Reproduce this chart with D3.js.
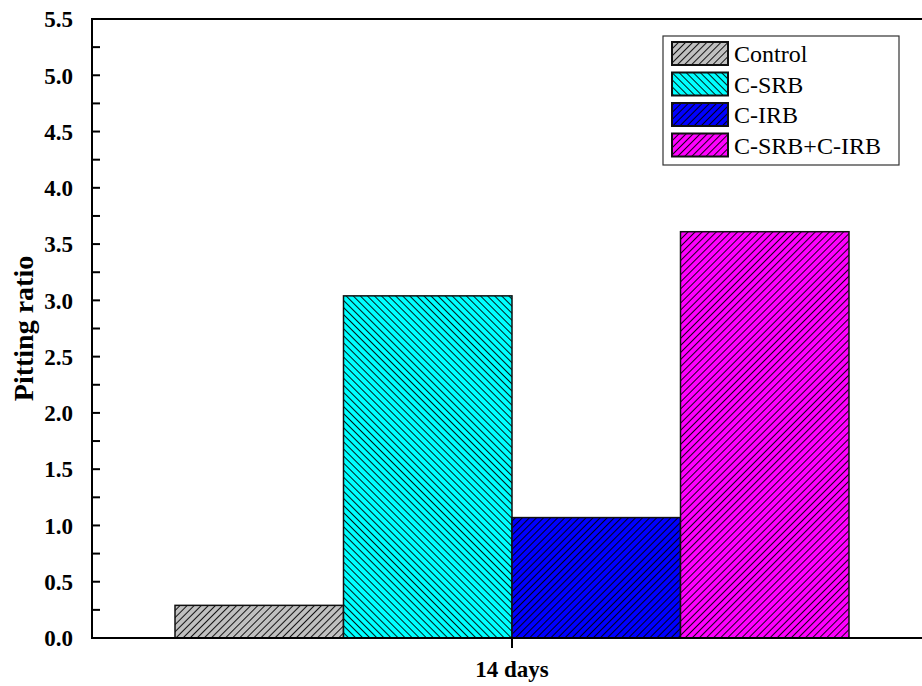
<!DOCTYPE html>
<html>
<head>
<meta charset="utf-8">
<script src="https://cdn.jsdelivr.net/npm/d3@7"></script>
<style>
  html, body { margin: 0; padding: 0; background: #fff; }
  svg { display: block; font-family: "Liberation Serif", "Times New Roman", serif; }
</style>
</head>
<body>
<div id="chart"></div>
<script>
/* ── Data ─────────────────────────────────────────────────────────── */
const GROUPS   = ['14 days'];
const SERIES   = ['Control', 'C-SRB', 'C-IRB', 'C-SRB+C-IRB'];
const VALUES   = [0.29, 3.04, 1.07, 3.61];
const COLORS   = ['#c0c0c0', '#00ffff', '#0000ff', '#ff00ff'];
const HATCH    = ['/', '\\', '/', '/'];
const Y_TICKS  = [0, 0.5, 1.0, 1.5, 2.0, 2.5, 3.0, 3.5, 4.0, 4.5, 5.0, 5.5];

/* ── Layout ───────────────────────────────────────────────────────── */
const W = 922, H = 686;
const X0 = 92, X1 = 932, Y0 = 638, Y1 = 19;
const HS = 5;   // hatch spacing

const svg = d3.select('#chart').append('svg')
  .attr('width', W).attr('height', H);

/* hatch patterns */
const defs = svg.append('defs');
SERIES.forEach((s, i) => {
  const p = defs.append('pattern')
    .attr('id', 'hatch' + i)
    .attr('patternUnits', 'userSpaceOnUse')
    .attr('width', HS).attr('height', HS)
    .attr('patternTransform', `rotate(${HATCH[i] === '/' ? 45 : -45})`);
  p.append('rect').attr('width', HS).attr('height', HS).attr('fill', COLORS[i]);
  p.append('line')
    .attr('x1', 0.5).attr('y1', 0).attr('x2', 0.5).attr('y2', HS)
    .attr('stroke', '#000').attr('stroke-width', 0.9);
});

const y = d3.scaleLinear().domain([0, 5.5]).range([Y0, Y1]);
const xGroup = d3.scaleBand().domain(GROUPS).range([X0, X1]);
const xBar = d3.scaleBand().domain(SERIES).range([0, 674]);

/* ── Bars ─────────────────────────────────────────────────────────── */
const g = svg.append('g');
GROUPS.forEach(grp => {
  const cx = xGroup(grp) + xGroup.bandwidth() / 2;
  SERIES.forEach((s, i) => {
    g.append('rect')
      .attr('x', cx - 337 + xBar(s))
      .attr('y', y(VALUES[i]))
      .attr('width', xBar.bandwidth())
      .attr('height', y(0) - y(VALUES[i]))
      .attr('fill', `url(#hatch${i})`)
      .attr('stroke', '#111')
      .attr('stroke-width', 1.5);
  });
});

/* ── Axes ─────────────────────────────────────────────────────────── */
// top frame line
svg.append('line')
  .attr('x1', X0).attr('x2', W).attr('y1', Y1).attr('y2', Y1)
  .attr('stroke', '#000').attr('stroke-width', 2);

// y axis with inward ticks
const yAxis = svg.append('g').attr('transform', `translate(${X0},0)`);
yAxis.append('line')
  .attr('x1', 0).attr('x2', 0).attr('y1', Y1 - 1).attr('y2', Y0 + 1)
  .attr('stroke', '#000').attr('stroke-width', 2);
d3.range(0, 5.51, 0.25).forEach(v => {
  yAxis.append('line')
    .attr('x1', 0).attr('x2', 8)
    .attr('y1', y(v)).attr('y2', y(v))
    .attr('stroke', '#000').attr('stroke-width', 2);
});
Y_TICKS.forEach(v => {
  yAxis.append('text')
    .attr('x', -19).attr('y', y(v))
    .attr('dy', '0.36em')
    .attr('text-anchor', 'end')
    .attr('font-size', '23px').attr('font-weight', 'bold')
    .text(v.toFixed(1));
});

// x axis
svg.append('line')
  .attr('x1', X0).attr('x2', W).attr('y1', Y0).attr('y2', Y0)
  .attr('stroke', '#000').attr('stroke-width', 2);
GROUPS.forEach(grp => {
  const cx = xGroup(grp) + xGroup.bandwidth() / 2;
  svg.append('line')
    .attr('x1', cx).attr('x2', cx).attr('y1', Y0).attr('y2', Y0 + 10)
    .attr('stroke', '#000').attr('stroke-width', 2);
  svg.append('text')
    .attr('x', cx).attr('y', 677)
    .attr('text-anchor', 'middle')
    .attr('font-size', '23px').attr('font-weight', 'bold')
    .text(grp);
});

// y title
svg.append('text')
  .attr('transform', `translate(33,${(Y0 + Y1) / 2}) rotate(-90)`)
  .attr('text-anchor', 'middle')
  .attr('font-size', '28px').attr('font-weight', 'bold')
  .text('Pitting ratio');

/* ── Legend ───────────────────────────────────────────────────────── */
const lg = svg.append('g').attr('transform', 'translate(663,36)');
lg.append('rect')
  .attr('width', 236).attr('height', 129)
  .attr('fill', '#fff').attr('stroke', '#333').attr('stroke-width', 1.2);
SERIES.forEach((s, i) => {
  const ry = 6 + i * 30.5;
  lg.append('rect')
    .attr('x', 9).attr('y', ry)
    .attr('width', 56).attr('height', 23)
    .attr('fill', `url(#hatch${i})`)
    .attr('stroke', '#111').attr('stroke-width', 2);
  lg.append('text')
    .attr('x', 71).attr('y', ry + 12)
    .attr('dy', '0.35em')
    .attr('font-size', '24px')
    .text(s);
});
</script>
</body>
</html>
